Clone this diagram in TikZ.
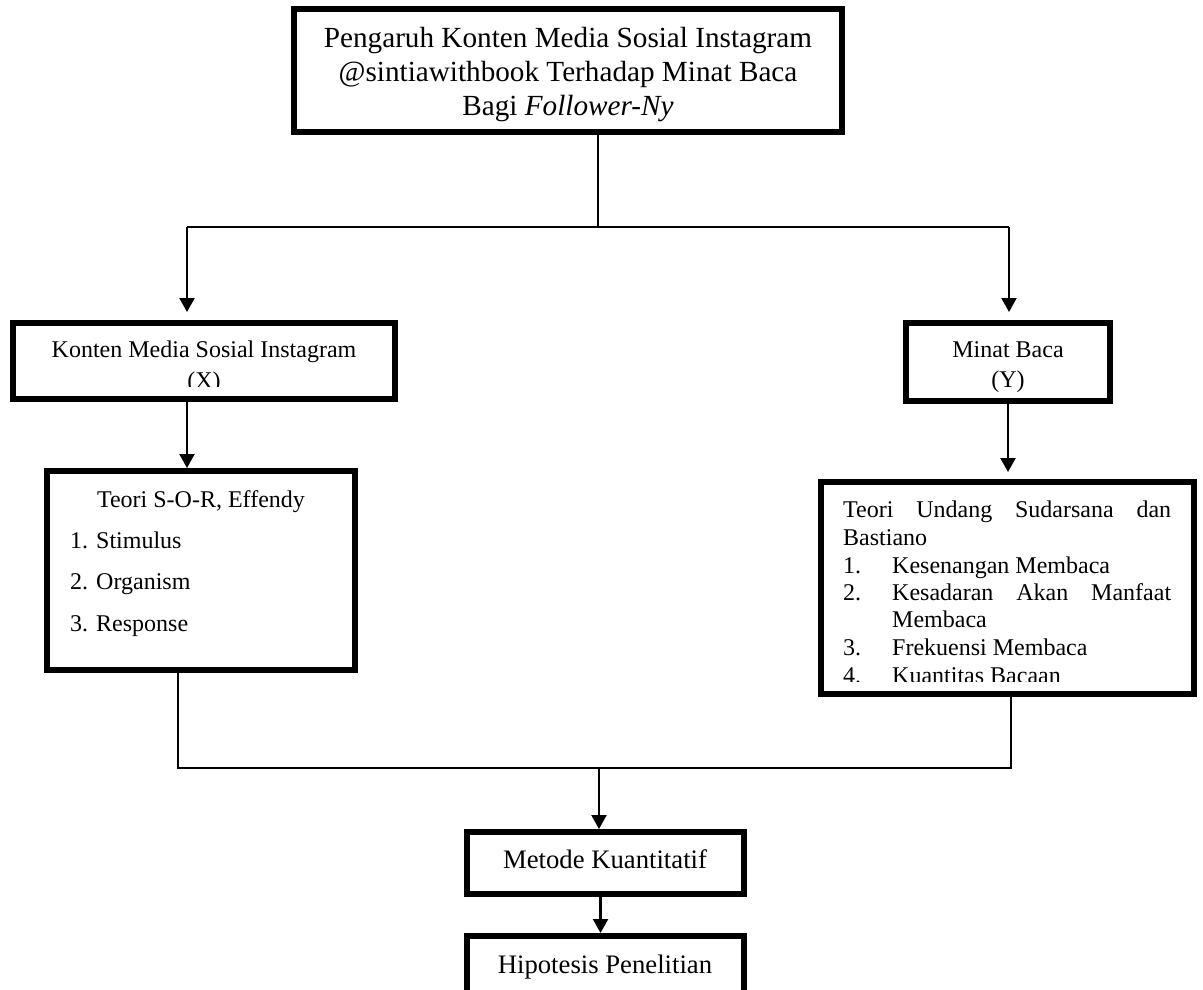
\documentclass[tikz,border=0pt]{standalone}
\usepackage{fontspec}
\setmainfont{Liberation Serif}
\usetikzlibrary{arrows.meta}
\tikzset{
  frame/.style={draw, line width=6pt, inner sep=0pt, outer sep=3pt},
  conn/.style={line width=2.2pt},
  arr/.style={conn, -{Triangle[width=15pt,length=14pt]}},
  ttop/.style={anchor=base, inner sep=0pt, font=\fontsize{29.2}{35}\selectfont},
  tmid/.style={anchor=base, inner sep=0pt, font=\fontsize{24}{28}\selectfont},
  tmidl/.style={anchor=base west, inner sep=0pt, font=\fontsize{24}{28}\selectfont},
  tlow/.style={anchor=base, inner sep=0pt, font=\fontsize{26.7}{31}\selectfont},
}
\begin{document}
\begin{tikzpicture}[x=1pt,y=-1pt]
\useasboundingbox[fill=white] (0,0) rectangle (1203,989);

% boxes
\node[frame, minimum width=548pt, minimum height=123pt] (top) at (568,70.5) {};
\node[frame, minimum width=382pt, minimum height=76pt] (konten) at (204,361) {};
\node[frame, minimum width=204pt, minimum height=78pt] (minat) at (1008,362) {};
\node[frame, minimum width=308pt, minimum height=199pt] (teoriL) at (201,570.5) {};
\node[frame, minimum width=373pt, minimum height=212pt] (teoriR) at (1007.5,588) {};
\node[frame, minimum width=277pt, minimum height=62pt] (metode) at (605.5,863) {};
\node[frame, minimum width=277pt, minimum height=62pt] (hipo) at (605.5,967) {};

% texts
\node[ttop] (t1) at (568,47) {Pengaruh Konten Media Sosial Instagram};
\node[ttop] (t2) at (568,81) {@sintiawithbook Terhadap Minat Baca};
\node[ttop] (t3) at (568,115) {Bagi \textit{Follower-Ny}};

\begin{scope}
\clip (10,300) rectangle (398,386);
\node[tmid] (k1) at (204,357) {Konten Media Sosial Instagram};
\node[tmid] (k2) at (204,388) {(X)};
\end{scope}

\node[tmid] (m1) at (1008,357) {Minat Baca};
\node[tmid] (m2) at (1008,387) {(Y)};

\node[tmid] (l0) at (201,507) {Teori S-O-R, Effendy};
\node[tmidl] (l1) at (70,548) {1. Stimulus};
\node[tmidl] (l2) at (70,589) {2. Organism};
\node[tmidl] (l3) at (70,631) {3. Response};

\begin{scope}
\clip (818,479) rectangle (1197,681);
\node[tmidl] (r0) at (843,517) {\hbox to 328pt{Teori\hfill Undang\hfill Sudarsana\hfill dan}};
\node[tmidl] (r0b) at (843,545) {Bastiano};
\node[tmidl] (n1) at (843,573) {1.};
\node[tmidl] (r1) at (892,573) {Kesenangan Membaca};
\node[tmidl] (n2) at (843,600) {2.};
\node[tmidl] (r2) at (892,600) {\hbox to 279pt{Kesadaran\hfill Akan\hfill Manfaat}};
\node[tmidl] (r2b) at (892,627) {Membaca};
\node[tmidl] (n3) at (843,655) {3.};
\node[tmidl] (r3) at (892,655) {Frekuensi Membaca};
\node[tmidl] (n4) at (843,683) {4.};
\node[tmidl] (r4) at (892,683) {Kuantitas Bacaan};
\end{scope}

\node[tlow] (mt) at (605,868) {Metode Kuantitatif};
\node[tlow] (ht) at (605,973) {Hipotesis Penelitian};

% connectors
\coordinate (j1) at (598,227);
\coordinate (jl) at (187,227);
\coordinate (jr) at (1009,227);
\draw[conn] (top.south -| j1) -- (j1);
\draw[conn] (jl) -- (jr);
\draw[arr, shorten >=8pt] (jl) -- (jl |- konten.north);
\draw[arr, shorten >=8pt] (jr) -- (jr |- minat.north);
\draw[arr] (konten.south -| jl) -- (teoriL.north -| jl);
\draw[arr, shorten >=7pt] (minat.south) -- (minat.south |- teoriR.north);

\coordinate (bl) at (178,768);
\coordinate (br) at (1011,768);
\coordinate (bm) at (599,768);
\draw[conn] (teoriL.south -| bl) -- (bl) -- (br) -- (teoriR.south -| br);
\draw[arr] (bm) -- (metode.north -| bm);
\draw[arr] ([xshift=-5pt]metode.south) -- ([xshift=-5pt]hipo.north);
\end{tikzpicture}
\end{document}
